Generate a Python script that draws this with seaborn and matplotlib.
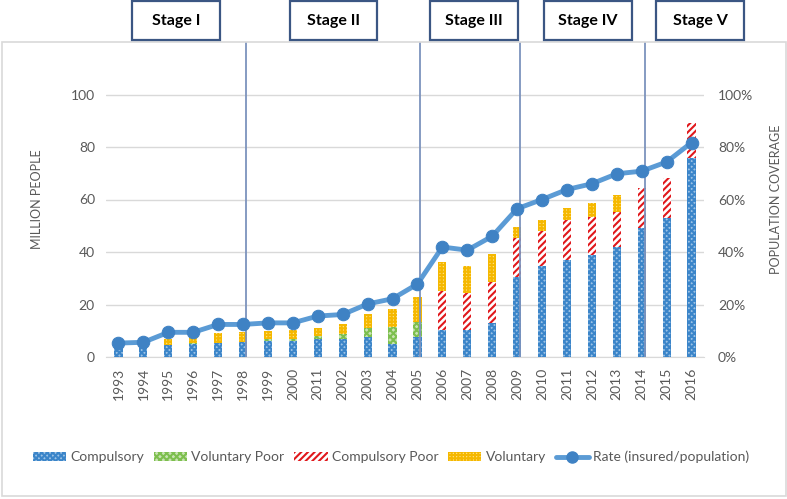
import matplotlib
matplotlib.use('Agg')
import matplotlib.pyplot as plt
from matplotlib.patches import Patch, Rectangle
from matplotlib.lines import Line2D
from matplotlib.ticker import PercentFormatter
import seaborn as sns

# data (million people / share of population)
years = ['1993', '1994', '1995', '1996', '1997', '1998', '1999', '2000', '2011', '2002',
         '2003', '2004', '2005', '2006', '2007', '2008', '2009', '2010', '2011', '2012',
         '2013', '2014', '2015', '2016']
compulsory = [3.4, 3.7, 4.5, 5.0, 5.4, 5.8, 6.2, 6.2, 6.7, 6.7,
              7.7, 5.0, 7.5, 10.1, 10.1, 13.1, 30.5, 34.6, 36.9, 39.0,
              41.9, 49.2, 53.0, 75.8]
voluntary_poor = [0.0, 0.5, 0.0, 0.3, 0.0, 0.0, 0.5, 0.7, 1.3, 1.9,
                  3.2, 6.5, 5.9, 0.0, 0.0, 0.0, 0.0, 0.0, 0.0, 0.0,
                  0.0, 0.0, 0.0, 0.0]
compulsory_poor = [0.0, 0.0, 0.0, 0.0, 0.0, 0.0, 0.0, 0.0, 0.0, 0.0,
                   0.0, 0.0, 0.0, 15.2, 14.1, 15.6, 14.9, 13.3, 15.2, 14.3,
                   13.3, 15.2, 15.3, 13.3]
voluntary = [0.0, 0.0, 2.2, 3.1, 3.8, 3.8, 3.2, 3.4, 3.2, 3.9,
             5.3, 6.6, 9.5, 11.0, 10.6, 10.7, 4.2, 4.2, 4.8, 5.4,
             6.4, 0.0, 0.0, 0.0]
rate = [0.053, 0.056, 0.094, 0.094, 0.124, 0.124, 0.130, 0.130, 0.156, 0.162,
        0.202, 0.222, 0.278, 0.419, 0.407, 0.460, 0.565, 0.600, 0.638, 0.660,
        0.698, 0.708, 0.743, 0.817]
stages = ['Stage I', 'Stage II', 'Stage III', 'Stage IV', 'Stage V']
stage_breaks = [5, 12, 16, 21]

sns.set_style('white')
plt.rcParams['font.family'] = ['Lato', 'DejaVu Sans']
plt.rcParams['hatch.linewidth'] = 1.5

W, H = 787, 499
fig = plt.figure(figsize=(W / 100, H / 100), dpi=100)
ax = fig.add_axes([106 / W, 1 - 357 / H, (704 - 106) / W, (357 - 42) / H])

# outer chart border
fig.patches.append(Rectangle((2 / W, 3 / H), 784 / W, (457 - 3) / H, transform=fig.transFigure,
                             fill=False, edgecolor='#D9D9D9', linewidth=1.2))

x = list(range(len(years)))
series = [
    ('Compulsory', compulsory, '#9DC3E6', '#3B85C9', 'xxxxxx'),
    ('Voluntary Poor', voluntary_poor, '#C9E3B4', '#7DBF4E', 'xxxxx'),
    ('Compulsory Poor', compulsory_poor, 'white', '#E0181C', '/////'),
    ('Voluntary', voluntary, '#FFE38A', '#F5B800', '+++++'),
]
bottom = [0.0] * len(years)
handles = []
for name, vals, face, hatchc, hatch in series:
    ax.bar(x, vals, width=0.33, bottom=bottom, color=face, edgecolor=hatchc,
           hatch=hatch, linewidth=0, zorder=3)
    bottom = [b + v for b, v in zip(bottom, vals)]
    handles.append(Patch(facecolor=face, edgecolor=hatchc, hatch=hatch, linewidth=0, label=name))

ax.set_xlim(-0.5, len(years) - 0.5)
ax.set_ylim(0, 120)
ax.set_yticks(range(0, 101, 20))
ax.set_xticks(x)
ax.set_xticklabels(years, rotation=90)
ax.grid(axis='y', color='#D9D9D9', linewidth=1)
ax.grid(axis='x', visible=False)
ax.set_axisbelow(True)
for s in ax.spines.values():
    s.set_visible(False)
ax.spines['bottom'].set_visible(True)
ax.spines['bottom'].set_color('#D9D9D9')
ax.tick_params(length=0, labelsize=10, labelcolor='#595959', pad=8)
ax.set_ylabel('MILLION PEOPLE', fontsize=9, color='#595959', labelpad=20)

# stage separators
for b in stage_breaks:
    ax.axvline(b + 0.12, color='#7C93BD', linewidth=1.3, zorder=4)

ax2 = ax.twinx()
sns.lineplot(x=x, y=rate, ax=ax2, color='#5B9BD5', linewidth=3.5, marker='o',
             markersize=9, markerfacecolor='#3F82C4', markeredgecolor='#3F82C4', zorder=5)
ax2.set_ylim(0, 1.2)
ax2.set_yticks([0, 0.2, 0.4, 0.6, 0.8, 1.0])
ax2.yaxis.set_major_formatter(PercentFormatter(1.0, decimals=0))
for s in ax2.spines.values():
    s.set_visible(False)
ax2.tick_params(length=0, labelsize=10, labelcolor='#595959', pad=10)
ax2.set_ylabel('POPULATION COVERAGE', fontsize=9, color='#595959', labelpad=12)
ax2.grid(False)

# stage boxes above the plot
box_x = [(132, 220), (290, 377), (430, 518), (544, 632), (656, 744)]
for label, (x0, x1) in zip(stages, box_x):
    fig.patches.append(Rectangle((x0 / W, 1 - 40 / H), (x1 - x0) / W, 39 / H,
                                 transform=fig.transFigure, facecolor='white',
                                 edgecolor='#3B5683', linewidth=1.6))
    fig.text((x0 + x1) / 2 / W, 1 - 21 / H, label, ha='center', va='center',
             fontsize=11.5, fontweight='bold', color='black')

handles.append(Line2D([0], [0], color='#5B9BD5', linewidth=3.5, marker='o', markersize=8,
                      markerfacecolor='#3F82C4', markeredgecolor='#3F82C4',
                      label='Rate (insured/population)'))
fig.legend(handles=handles, loc='center', bbox_to_anchor=(391 / W, 1 - 457 / H), ncol=5,
           frameon=False, fontsize=10, handlelength=2.4, handleheight=0.6,
           handletextpad=0.3, columnspacing=0.7, labelcolor='#595959')

fig.savefig('out.png', dpi=100)
